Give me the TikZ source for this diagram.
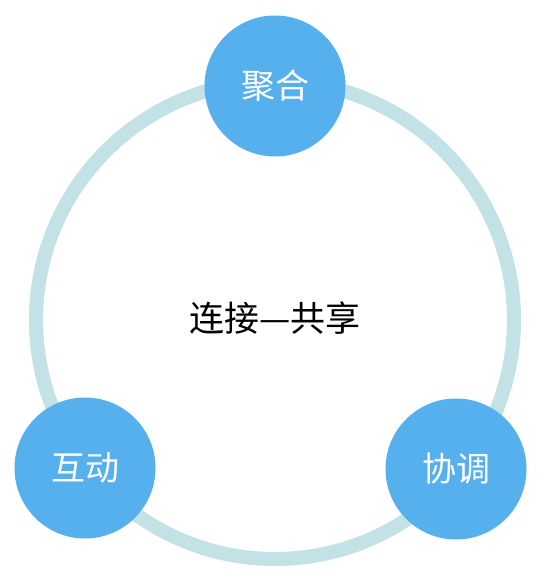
\documentclass[tikz,border=0pt]{standalone}
\usepackage{fontspec}
\newfontfamily\cjk{Noto Sans CJK SC}
\definecolor{ringc}{RGB}{194,226,230}
\definecolor{dotc}{RGB}{86,176,238}
\begin{document}
\begin{tikzpicture}[x=1pt,y=-1pt,
  ringstyle/.style={circle,draw=ringc,line width=14pt,minimum size=478pt,inner sep=0pt},
  dotstyle/.style={circle,fill=dotc,minimum size=141pt,inner sep=0pt,text=white,font=\cjk\fontsize{34}{34}\selectfont},
  centerstyle/.style={text=black,font=\cjk\fontsize{35}{35}\selectfont,inner sep=0pt}]
\fill[white] (0,0) rectangle (550,583);
\useasboundingbox (0,0) rectangle (550,583);
\node[ringstyle] (ring) at (275,320) {};
\node[centerstyle] (core) at (275,318) {连接—共享};
\node[dotstyle] (top) at (275,86) {聚合};
\node[dotstyle] (left) at (85,468) {互动};
\node[dotstyle] (right) at (456,469) {协调};
\end{tikzpicture}
\end{document}
